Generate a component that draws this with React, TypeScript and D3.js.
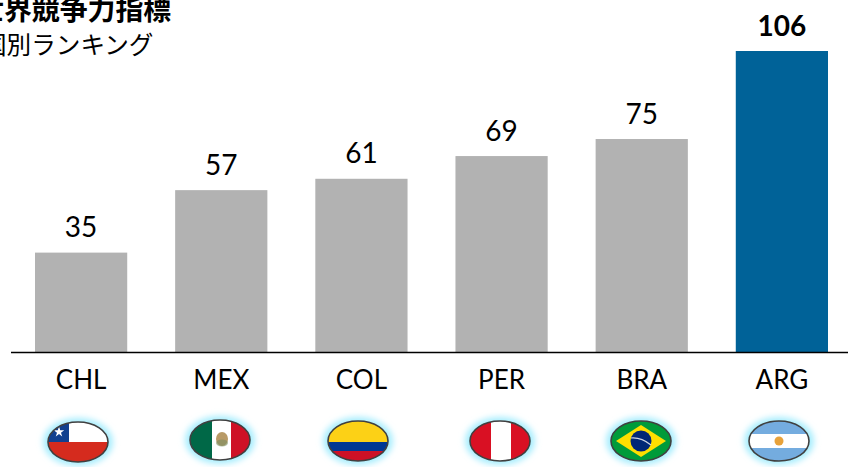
import React from "react";
import * as d3 from "d3";

const WIDTH = 848;
const HEIGHT = 467;

const codes = ["CHL", "MEX", "COL", "PER", "BRA", "ARG"];
const ranks = [35, 57, 61, 69, 75, 106];
const flagCentersX = [78, 220, 358, 500, 641, 779];
const flagCentersY = [442, 440, 441, 441, 441, 441];
const titleLines = ["世界競争力指標", "国別ランキング"];

const BAR_GREY = "#b2b2b2";
const BAR_HIGHLIGHT = "#006298";
const FONT = "Lato, Carlito, 'Open Sans', sans-serif";
const CJK = "'Noto Sans CJK JP', sans-serif";

const x = d3.scaleBand<string>().domain(codes).range([35, 828]).paddingInner(0.342).paddingOuter(0);
const y = d3.scaleLinear().domain([0, 106]).range([352, 51]);

const RX = 30;
const RY = 20;

function Flag({ code }: { code: string }) {
  const L = -RX;
  const T = -RY;
  const W = RX * 2;
  const H = RY * 2;
  switch (code) {
    case "CHL":
      return (
        <g>
          <rect x={L} y={T} width={W} height={H / 2} fill="#ffffff" />
          <rect x={L} y={T} width={21} height={H / 2} fill="#10408f" />
          <rect x={L} y={0} width={W} height={H / 2} fill="#d52b1e" />
          <path
            d={d3.symbol().type(d3.symbolStar).size(34)() ?? ""}
            transform="translate(-19,-10)"
            fill="#ffffff"
          />
        </g>
      );
    case "MEX":
      return (
        <g>
          <rect x={L} y={T} width={W} height={H} fill="#ffffff" />
          <rect x={L} y={T} width={22} height={H} fill="#006847" />
          <rect x={11} y={T} width={19} height={H} fill="#ce1126" />
          <ellipse cx={2} cy={-1} rx={6} ry={7} fill="#b89a66" />
          <ellipse cx={2} cy={3} rx={6} ry={3.5} fill="#7c8f62" opacity={0.6} />
        </g>
      );
    case "COL":
      return (
        <g>
          <rect x={L} y={T} width={W} height={21} fill="#fcd116" />
          <rect x={L} y={1} width={W} height={9} fill="#003893" />
          <rect x={L} y={10} width={W} height={10} fill="#ce1126" />
        </g>
      );
    case "PER":
      return (
        <g>
          <rect x={L} y={T} width={W} height={H} fill="#d91023" />
          <rect x={-9} y={T} width={20} height={H} fill="#ffffff" />
        </g>
      );
    case "BRA":
      return (
        <g>
          <rect x={L} y={T} width={W} height={H} fill="#009b3a" />
          <path d="M-25,0 L0,-16 L25,0 L0,16 Z" fill="#fedf00" />
          <circle r={10.5} fill="#002776" />
          <path d="M-10,-3 Q0,-4 10,4" fill="none" stroke="#ffffff" strokeWidth={1.2} opacity={0.8} />
        </g>
      );
    default:
      return (
        <g>
          <rect x={L} y={T} width={W} height={H} fill="#74acdf" />
          <rect x={L} y={-7} width={W} height={14} fill="#ffffff" />
          <circle r={4.5} fill="#e8a23a" />
        </g>
      );
  }
}

export default function App() {
  return (
    <svg
      width={WIDTH}
      height={HEIGHT}
      viewBox={`0 0 ${WIDTH} ${HEIGHT}`}
      style={{ position: "absolute", left: 0, top: 0, background: "#ffffff" }}
    >
      <defs>
        <filter id="halo" x="-40%" y="-50%" width="180%" height="200%">
          <feGaussianBlur stdDeviation="3" />
        </filter>
        <clipPath id="flag-oval">
          <ellipse rx={RX} ry={RY} />
        </clipPath>
      </defs>

      <text x={-24} y={20} fontFamily={CJK} fontWeight={700} fontSize={27.9} fill="#000000">
        {titleLines[0]}
      </text>
      <text x={-18} y={54} fontFamily={CJK} fontWeight={400} fontSize={24.6} fill="#000000">
        {titleLines[1]}
      </text>

      {codes.map((code, i) => {
        const bx = x(code) ?? 0;
        const isLast = i === codes.length - 1;
        const cx = bx + x.bandwidth() / 2;
        return (
          <g key={code}>
            <rect
              x={bx}
              y={y(ranks[i])}
              width={x.bandwidth()}
              height={y(0) - y(ranks[i])}
              fill={isLast ? BAR_HIGHLIGHT : BAR_GREY}
            />
            <text
              x={cx}
              y={y(ranks[i]) - 15.5}
              textAnchor="middle"
              fontFamily={FONT}
              fontWeight={isLast ? 700 : 400}
              fontSize={28}
              fill="#000000"
            >
              {ranks[i]}
            </text>
            <text x={cx} y={389} textAnchor="middle" fontFamily={FONT} fontSize={26} fill="#000000">
              {code}
            </text>
          </g>
        );
      })}

      <line x1={11} x2={848} y1={352.5} y2={352.5} stroke="#000000" strokeWidth={1.3} />

      {codes.map((code, i) => (
        <g key={code} transform={`translate(${flagCentersX[i]},${flagCentersY[i]})`}>
          <ellipse rx={RX + 5} ry={RY + 4} fill="#a6edfd" filter="url(#halo)" />
          <g clipPath="url(#flag-oval)">
            <Flag code={code} />
          </g>
          <ellipse rx={RX} ry={RY} fill="none" stroke="#404040" strokeWidth={1.6} />
        </g>
      ))}
    </svg>
  );
}
